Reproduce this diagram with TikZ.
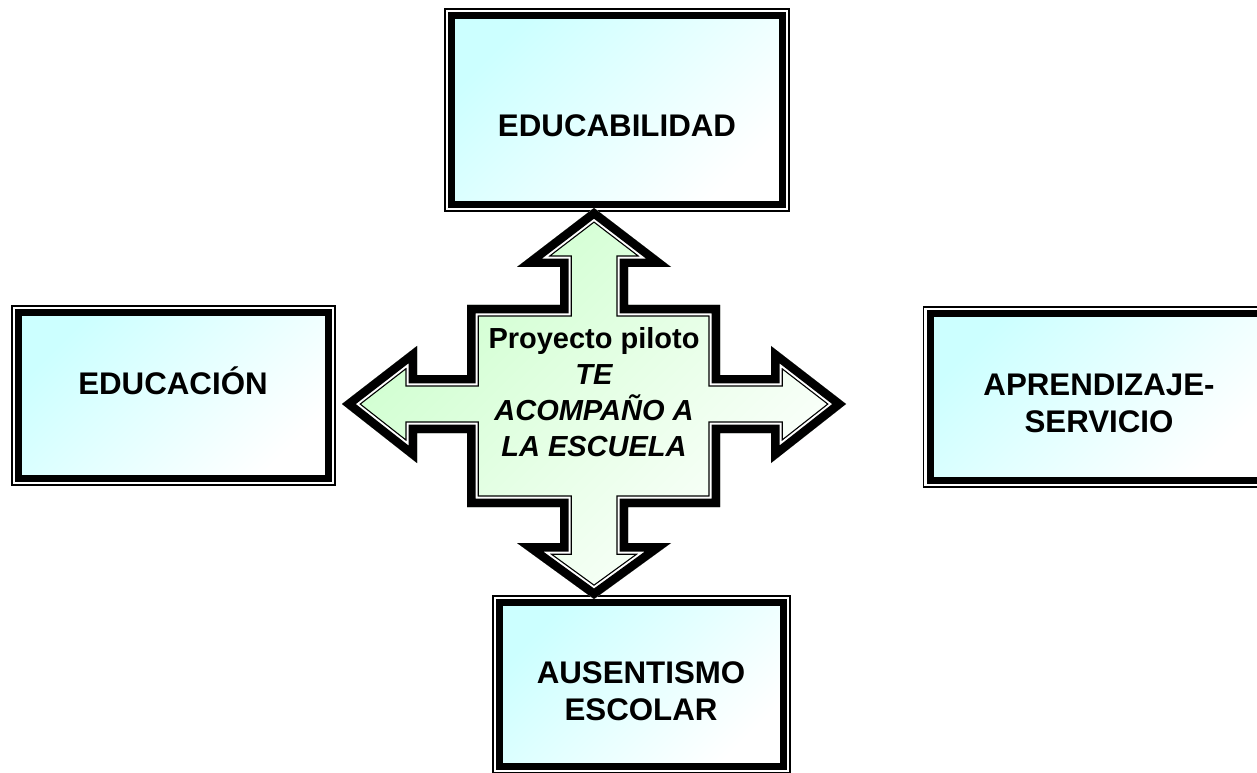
\documentclass[tikz,border=0pt]{standalone}
\usepackage{fontspec}
\setmainfont{Liberation Sans}
\definecolor{boxcyan}{RGB}{204,255,255}
\definecolor{crossgreen}{RGB}{204,255,204}
\newcommand{\crossoutline}{(594,208) -- (671,267) -- (628,267) -- (628,305) -- (720,305) -- (720,375) -- (771,375) -- (771,346) -- (846,404) -- (771,463) -- (771,433) -- (720,433) -- (720,507) -- (628,507) -- (628,543) -- (671,543) -- (594,599) -- (517,543) -- (560,543) -- (560,507) -- (467,507) -- (467,433) -- (417,433) -- (417,463) -- (342,404) -- (417,346) -- (417,375) -- (467,375) -- (467,305) -- (560,305) -- (560,267) -- (517,267) -- cycle}

\begin{document}
\begin{tikzpicture}[x=0.02cm, y=-0.02cm]
\tikzstyle{box} = [draw=black, line width=0.14cm, top color=boxcyan, bottom color=white, shading angle=45, inner sep=0pt]
\tikzstyle{frame} = [draw=black, line width=0.03cm]
\tikzstyle{boxtext} = [font=\bfseries\fontsize{17.8}{21}\selectfont, align=center, inner sep=0pt]

\useasboundingbox (0,0) rectangle (1257,773);

\node[box, minimum width=6.62cm, minimum height=3.78cm] (educab) at (617,110) {};
\node[box, minimum width=6.2cm, minimum height=3.32cm] (educ) at (173.5,395.5) {};
\node[box, minimum width=6.7cm, minimum height=3.34cm] (apren) at (1097.5,397) {};
\node[box, minimum width=5.68cm, minimum height=3.28cm] (ausen) at (641.5,684.5) {};
\foreach \n in {educab,educ,apren,ausen}
  \draw[frame] ([shift={(-0.06cm,0.06cm)}]\n.north west) rectangle ([shift={(0.06cm,-0.06cm)}]\n.south east);

\begin{scope}
\clip \crossoutline;
\shade[top color=crossgreen, bottom color=white, shading angle=45] \crossoutline;
\draw[line width=0.47cm] \crossoutline;
\draw[line width=0.42cm, white] \crossoutline;
\draw[line width=0.34cm] \crossoutline;
\end{scope}

\node[boxtext, anchor=base] (educabtext) at (617,137) {EDUCABILIDAD};
\node[boxtext, anchor=base] (eductext) at (173,395) {EDUCACIÓN};
\node[boxtext] (aprentext) at (1099,403) {APRENDIZAJE-\\SERVICIO};
\node[boxtext] (ausentext) at (641,691) {AUSENTISMO\\ESCOLAR};
\node[font=\bfseries\fontsize{16.5}{20.4}\selectfont, align=center, inner sep=0pt] (proyecto) at (594,392) {Proyecto piloto\\\itshape TE\\\itshape ACOMPAÑO A\\\itshape LA ESCUELA};
\end{tikzpicture}
\end{document}
